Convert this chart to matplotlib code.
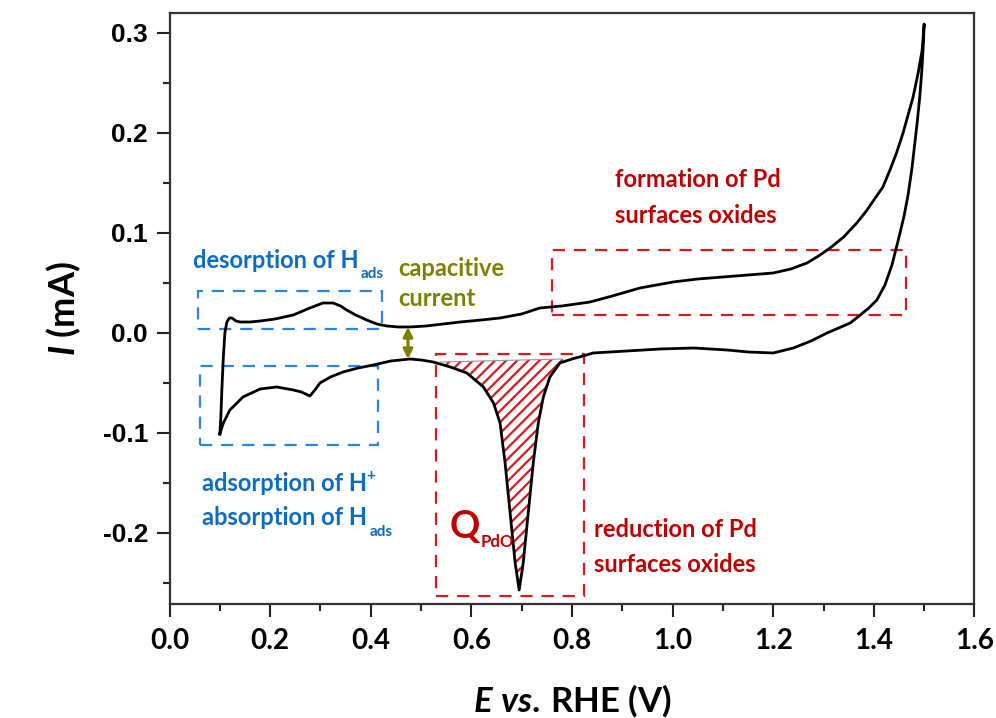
import numpy as np
import matplotlib
matplotlib.use("Agg")
import matplotlib.pyplot as plt
from matplotlib.patches import Rectangle

# Cyclic voltammogram of Pd
# anodic sweep (upper branch), 0.1 V -> 1.5 V
e_anodic = [0.100, 0.102, 0.104, 0.107, 0.110, 0.114, 0.119, 0.124, 0.132, 0.140,
            0.160, 0.180, 0.210, 0.246, 0.279, 0.305, 0.325, 0.340, 0.352, 0.370,
            0.392, 0.412, 0.432, 0.455, 0.478, 0.510, 0.544, 0.578, 0.620, 0.657,
            0.700, 0.736, 0.780, 0.836, 0.880, 0.935, 1.001, 1.050, 1.100, 1.150,
            1.200, 1.235, 1.267, 1.290, 1.313, 1.340, 1.366, 1.385, 1.400, 1.418,
            1.432, 1.445, 1.458, 1.468, 1.478, 1.488, 1.496, 1.500]
i_anodic = [-0.101, -0.085, -0.057, -0.024, 0.000, 0.011, 0.015, 0.015, 0.012, 0.011,
            0.011, 0.012, 0.014, 0.018, 0.025, 0.030, 0.030, 0.027, 0.023, 0.018,
            0.013, 0.009, 0.007, 0.006, 0.006, 0.007, 0.009, 0.011, 0.013, 0.015,
            0.019, 0.025, 0.027, 0.031, 0.037, 0.045, 0.051, 0.054, 0.056, 0.058,
            0.060, 0.064, 0.070, 0.077, 0.085, 0.096, 0.110, 0.122, 0.133, 0.146,
            0.163, 0.180, 0.200, 0.218, 0.236, 0.260, 0.283, 0.309]

# cathodic sweep (lower branch), 1.5 V -> 0.1 V
e_cathodic = [1.500, 1.498, 1.495, 1.491, 1.486, 1.481, 1.476, 1.468, 1.460, 1.452,
              1.444, 1.436, 1.422, 1.406, 1.390, 1.373, 1.353, 1.330, 1.307, 1.275,
              1.240, 1.200, 1.150, 1.108, 1.042, 0.975, 0.909, 0.842, 0.822, 0.800,
              0.776, 0.756, 0.743, 0.733, 0.723, 0.713, 0.703, 0.695, 0.687, 0.677,
              0.667, 0.657, 0.644, 0.624, 0.591, 0.558, 0.524, 0.500, 0.478, 0.440,
              0.405, 0.375, 0.345, 0.320, 0.299, 0.289, 0.279, 0.262, 0.246, 0.213,
              0.180, 0.146, 0.120, 0.107, 0.100]
i_cathodic = [0.309, 0.285, 0.260, 0.235, 0.210, 0.188, 0.166, 0.138, 0.117, 0.100,
              0.084, 0.068, 0.048, 0.033, 0.025, 0.018, 0.010, 0.005, 0.000, -0.008,
              -0.015, -0.020, -0.019, -0.017, -0.015, -0.016, -0.018, -0.020, -0.023, -0.026,
              -0.030, -0.044, -0.064, -0.090, -0.130, -0.180, -0.230, -0.257, -0.230, -0.180,
              -0.130, -0.090, -0.070, -0.054, -0.040, -0.034, -0.029, -0.027, -0.026, -0.028,
              -0.032, -0.035, -0.039, -0.044, -0.050, -0.057, -0.063, -0.059, -0.057, -0.054,
              -0.056, -0.064, -0.077, -0.090, -0.101]

# baseline used for the PdO reduction charge
q_base_e = [0.538, 0.782]
q_base_i = [-0.029, -0.026]

# annotation boxes: (E_left, I_bottom, E_right, I_top)
box_hdes = (0.056, 0.004, 0.423, 0.042)
box_hads = (0.061, -0.112, 0.415, -0.033)
box_pdo_red = (0.530, -0.263, 0.824, -0.021)
box_pdo_form = (0.760, 0.018, 1.464, 0.083)

BLUE_TXT = "#0a6cc4"
BLUE_BOX = "#2a86dc"
RED_TXT = "#c00000"
RED_BOX = "#d71920"
OLIVE = "#808000"
ANNOT = "Lato"

plt.rcParams["mathtext.fontset"] = "custom"
plt.rcParams["mathtext.it"] = "Lato:italic:bold"
plt.rcParams["mathtext.rm"] = "Lato:bold"
plt.rcParams["mathtext.bf"] = "Lato:bold"
plt.rcParams["hatch.linewidth"] = 1.6


def label_with_script(ax, x, y, main, script, color, size, script_size, anchor_y, dx, dy):
    t = ax.text(x, y, main, color=color, fontsize=size, fontfamily=ANNOT,
                fontweight="bold", ha="left", va="baseline")
    ax.annotate(script, xy=(1, anchor_y), xycoords=t, xytext=(dx, dy),
                textcoords="offset points", color=color, fontsize=script_size,
                fontfamily=ANNOT, fontweight="bold", ha="left", va="baseline")
    return t


def main() -> None:
    fig = plt.figure(figsize=(9.96, 7.18), dpi=100)
    ax = fig.add_axes([0.1702, 0.1588, 0.8082, 0.8231])

    e_cv = np.concatenate([e_anodic, e_cathodic])
    i_cv = np.concatenate([i_anodic, i_cathodic])
    ax.plot(e_cv, i_cv, color="black", lw=2.0, solid_joinstyle="round", zorder=3)

    # hatched PdO reduction charge
    ec = np.array(e_cathodic)[::-1]
    ic = np.array(i_cathodic)[::-1]
    mask = (ec > q_base_e[0]) & (ec < q_base_e[1])
    e_fill = np.concatenate([[q_base_e[0]], ec[mask], [q_base_e[1]]])
    i_fill = np.interp(e_fill, ec, ic)
    base = np.interp(e_fill, q_base_e, q_base_i)
    ax.fill_between(e_fill, base, i_fill, facecolor="none", edgecolor=RED_BOX,
                    hatch="///", linewidth=0, zorder=2)
    ax.plot(q_base_e, q_base_i, color="#999999", lw=0.8, zorder=2)

    # dashed boxes
    for (x0, y0, x1, y1), col in [(box_hdes, BLUE_BOX), (box_hads, BLUE_BOX),
                                  (box_pdo_red, RED_BOX), (box_pdo_form, RED_BOX)]:
        ax.add_patch(Rectangle((x0, y0), x1 - x0, y1 - y0, fill=False,
                               edgecolor=col, lw=1.6, linestyle=(0, (5.5, 4)),
                               zorder=1))

    # capacitive current arrow
    ax.annotate("", xy=(0.474, -0.026), xytext=(0.474, 0.006),
                arrowprops=dict(arrowstyle="<|-|>", color=OLIVE, lw=2.2,
                                mutation_scale=14, shrinkA=0, shrinkB=0))

    fs = 17
    label_with_script(ax, 0.047, 0.065, "desorption of H", "ads",
                      BLUE_TXT, fs, 11, 0, 1.5, -4)
    label_with_script(ax, 0.065, -0.158, "adsorption of H", "+",
                      BLUE_TXT, fs, 11, 1, -0.5, -6)
    label_with_script(ax, 0.065, -0.192, "absorption of H", "ads",
                      BLUE_TXT, fs, 11, 0, 1.5, -5)
    ax.text(0.454, 0.057, "capacitive", color=OLIVE, fontsize=fs,
            fontfamily=ANNOT, fontweight="bold", va="baseline")
    ax.text(0.454, 0.027, "current", color=OLIVE, fontsize=fs,
            fontfamily=ANNOT, fontweight="bold", va="baseline")
    ax.text(0.886, 0.146, "formation of Pd", color=RED_TXT, fontsize=fs,
            fontfamily=ANNOT, fontweight="bold", va="baseline")
    ax.text(0.886, 0.110, "surfaces oxides", color=RED_TXT, fontsize=fs,
            fontfamily=ANNOT, fontweight="bold", va="baseline")
    ax.text(0.844, -0.204, "reduction of Pd", color=RED_TXT, fontsize=fs,
            fontfamily=ANNOT, fontweight="bold", va="baseline")
    ax.text(0.844, -0.239, "surfaces oxides", color=RED_TXT, fontsize=fs,
            fontfamily=ANNOT, fontweight="bold", va="baseline")
    label_with_script(ax, 0.556, -0.205, "Q", "PdO", RED_TXT, 27, 12, 0, 1.0, -2)

    # axes styling
    ax.set_xlim(0.0, 1.6)
    ax.set_ylim(-0.271, 0.32)
    ax.set_xticks(np.arange(0.0, 1.61, 0.2))
    ax.set_xticks(np.arange(0.1, 1.6, 0.2), minor=True)
    ax.set_yticks([-0.2, -0.1, 0.0, 0.1, 0.2, 0.3])
    ax.set_yticks([-0.25, -0.15, -0.05, 0.05, 0.15, 0.25], minor=True)
    ax.set_xticklabels([f"{v:.1f}" for v in np.arange(0.0, 1.61, 0.2)],
                       fontfamily="Lato", fontweight="bold", fontsize=20)
    ax.set_yticklabels([f"{v:.1f}" for v in [-0.2, -0.1, 0.0, 0.1, 0.2, 0.3]],
                       fontfamily="Liberation Sans", fontweight="bold", fontsize=19)
    ax.tick_params(which="major", direction="out", length=9.5, width=1.5,
                   color="#222222")
    ax.tick_params(which="minor", direction="out", length=5, width=1.5,
                   color="#222222")
    ax.tick_params(axis="x", which="major", pad=8)
    ax.tick_params(axis="y", which="major", pad=6)
    for sp in ax.spines.values():
        sp.set_linewidth(1.6)
        sp.set_color("#333333")

    ax.set_xlabel(r"$\mathit{E\ vs.}\,$RHE (V)", fontfamily="Lato",
                  fontweight="bold", fontsize=25, labelpad=20)
    ax.set_ylabel(r"$\mathit{I}$ (mA)", fontfamily="Lato",
                  fontweight="bold", fontsize=26, labelpad=14)

    fig.savefig("out.png", dpi=100)
    plt.close(fig)


if __name__ == "__main__":
    main()
